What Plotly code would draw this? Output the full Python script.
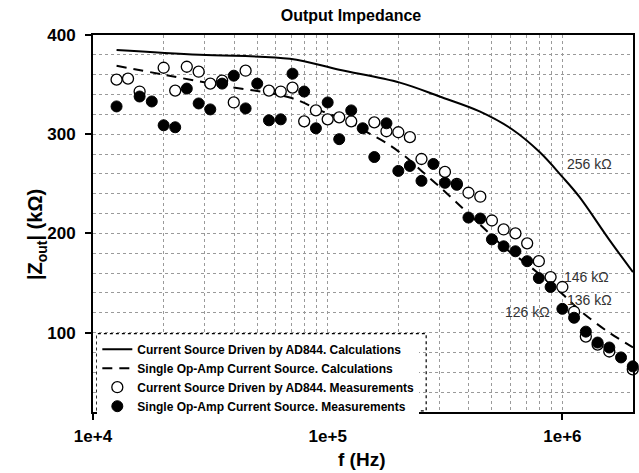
import math
import plotly.graph_objects as go

# ---------------- data ----------------
calc_ad844_f = [12600, 28500, 69000, 112000, 203000, 300000, 444000, 610000,
                800000, 1000000, 1180000, 1580000, 2000000]
calc_ad844_z = [385, 380, 376, 365, 352, 338, 323, 305, 282, 257, 237, 194, 161]

calc_opamp_f = [12600, 20000, 35500, 69000, 95000, 120000, 147000, 178000,
                218000, 254000, 300000, 355000, 455000, 578000, 690000,
                1000000, 1180000, 1540000, 2000000]
calc_opamp_z = [369, 360, 349, 337, 323, 314, 302, 291, 276, 262, 247, 231,
                207, 184, 171, 139, 123, 102, 85]

meas_ad844_f = [12600, 14100, 15800, 20000, 22400, 25100, 28200, 31600, 35500,
                39800, 44700, 56200, 63100, 70800, 79400, 89100, 100000,
                112000, 126000, 158000, 178000, 200000, 224000, 251000,
                316000, 355000, 398000, 447000, 501000, 562000, 631000,
                708000, 794000, 891000, 1000000, 1122000, 1259000, 1413000,
                1585000, 1995000]
meas_ad844_z = [355, 356, 343, 367, 344, 368, 363, 351, 354, 332, 364, 344,
                343, 347, 313, 324, 315, 317, 313, 312, 303, 302, 297, 275,
                262, 250, 241, 237, 213, 204, 200, 190, 172, 156, 146, 121,
                96, 88, 81, 63]

meas_opamp_f = [12600, 15800, 17800, 20000, 22400, 25100, 28200, 31600, 35500,
                39800, 44700, 50100, 56200, 63100, 70800, 79400, 89100,
                100000, 112000, 126000, 141000, 158000, 178000, 200000,
                224000, 251000, 282000, 316000, 355000, 398000, 447000,
                501000, 562000, 631000, 708000, 794000, 891000, 1000000,
                1122000, 1259000, 1413000, 1585000, 1778000, 1995000]
meas_opamp_z = [328, 338, 333, 309, 307, 346, 331, 325, 351, 359, 326, 351,
                314, 315, 361, 343, 306, 332, 295, 324, 306, 277, 311, 263,
                268, 253, 270, 251, 249, 216, 215, 194, 187, 182, 172, 155,
                146, 124, 115, 101, 90, 85, 75, 66]

x_tick_vals = [1e4, 1e5, 1e6]
x_tick_text = ["1e+4", "1e+5", "1e+6"]
y_tick_vals = [100, 200, 300, 400]

labels = [
    ("256 kΩ", 1.30e6, 270),
    ("146 kΩ", 1.27e6, 156),
    ("136 kΩ", 1.30e6, 133),
    ("126 kΩ", 7.1e5, 121),
]

FONT = "Liberation Sans, Arial, Helvetica, sans-serif"
GRID = "#9a9a9a"

fig = go.Figure()
fig.add_trace(go.Scatter(
    x=calc_ad844_f, y=calc_ad844_z, mode="lines", line_shape="spline",
    line=dict(color="black", width=2),
    name="<b>Current Source Driven by AD844. Calculations</b>"))
fig.add_trace(go.Scatter(
    x=calc_opamp_f, y=calc_opamp_z, mode="lines", line_shape="spline",
    line=dict(color="black", width=2, dash="10px,7px"),
    name="<b>Single Op-Amp Current Source. Calculations</b>"))
fig.add_trace(go.Scatter(
    x=meas_ad844_f, y=meas_ad844_z, mode="markers", cliponaxis=False,
    marker=dict(symbol="circle", size=11, color="white",
                line=dict(color="black", width=1.3)),
    name="<b>Current Source Driven by AD844. Measurements</b>"))
fig.add_trace(go.Scatter(
    x=meas_opamp_f, y=meas_opamp_z, mode="markers", cliponaxis=False,
    marker=dict(symbol="circle", size=11, color="black",
                line=dict(color="black", width=1)),
    name="<b>Single Op-Amp Current Source. Measurements</b>"))

for txt, fx, zy in labels:
    fig.add_annotation(x=math.log10(fx), y=zy, xref="x", yref="y", text=txt,
                       showarrow=False,
                       font=dict(family=FONT, size=14, color="#333"))

fig.add_annotation(xref="paper", yref="paper", x=-0.13, y=0.47,
                   text="<b>|Z<sub>out</sub>| (kΩ)</b>", textangle=-90,
                   showarrow=False,
                   font=dict(family=FONT, size=20, color="black"))
fig.add_annotation(xref="paper", yref="paper", x=0.497, y=-0.127,
                   yanchor="middle",
                   text="<b>f (Hz)</b>", showarrow=False,
                   font=dict(family=FONT, size=19, color="black"))

fig.update_xaxes(type="log", range=[4, 6.301], tickvals=x_tick_vals,
                 ticktext=x_tick_text, ticks="outside", ticklen=6,
                 tickwidth=1.5, tickcolor="black", showline=True,
                 linecolor="black", linewidth=1.5, mirror=True,
                 showgrid=True, gridcolor=GRID, griddash="dot", gridwidth=1,
                 ticklabelstandoff=2,
                 tickfont=dict(family=FONT, size=17, color="black",
                               weight="bold"),
                 minor=dict(dtick="D1", showgrid=True, gridcolor=GRID,
                            griddash="dot", gridwidth=1, ticks=""),
                 zeroline=False)
fig.update_yaxes(range=[20, 400], tickvals=y_tick_vals, ticks="outside",
                 ticklen=6, tickwidth=1.5, tickcolor="black", showline=True,
                 linecolor="black", linewidth=1.8, mirror=True,
                 showgrid=True, gridcolor=GRID, griddash="dot", gridwidth=1,
                 ticklabelstandoff=6,
                 tickfont=dict(family=FONT, size=17, color="black",
                               weight="bold"),
                 minor=dict(dtick=20, showgrid=True, gridcolor=GRID,
                            griddash="dot", gridwidth=1, ticks=""),
                 zeroline=False)

fig.update_layout(
    width=639, height=473,
    margin=dict(l=93, r=4, t=35, b=61),
    paper_bgcolor="white", plot_bgcolor="white",
    title=dict(text="<b>Output Impedance</b>", x=351 / 639, xanchor="center",
               xref="container", y=1 - 15 / 473, yanchor="middle",
               font=dict(family=FONT, size=16, color="black")),
    legend=dict(x=0.008, y=0.205, xanchor="left", yanchor="top",
                bgcolor="white", borderwidth=0, itemwidth=30,
                font=dict(family=FONT, size=12, color="black"),
                tracegroupgap=0),
    showlegend=True,
)

fig.add_shape(type="rect", xref="paper", yref="paper",
              x0=0.007, x1=0.617, y0=0.003, y1=0.208,
              line=dict(color="black", width=1.2, dash="dot"),
              fillcolor="white", layer="below")

fig.write_html("out.html", config={"displayModeBar": False},
               post_script="document.body.style.margin='0px';")
